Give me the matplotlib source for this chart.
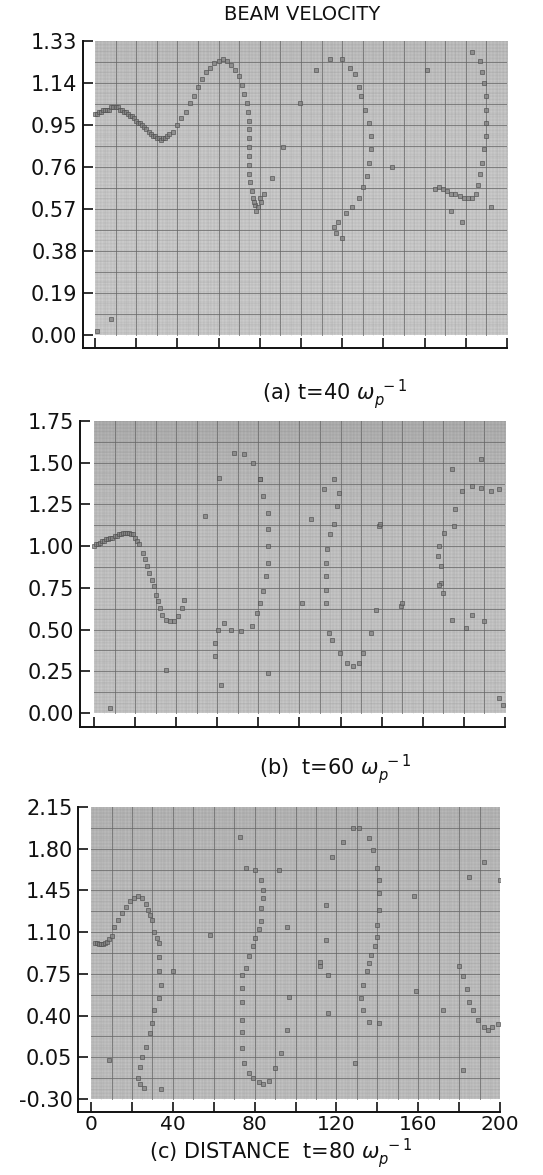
import numpy as np
import matplotlib
matplotlib.use("Agg")
import matplotlib.pyplot as plt

plt.rcParams['font.family'] = ['DejaVu Sans']

W, H = 543, 1175

# ---------------- data: beam phase space (distance, velocity) ----------------
# (a) t = 40
xa = list(range(0, 37)) + [
      38, 40, 42, 44, 46, 48, 50, 52, 54, 56, 58, 60, 62, 64, 66, 68, 70, 71.5, 72.5,
      74, 74.5, 75, 75, 75, 75, 75, 75, 75, 75.5, 76, 76.5, 77.5, 79, 80.5, 82,
      77, 78, 80,
      86, 91.5, 99.5, 107.5, 114, 120, 124, 126, 128, 129, 131, 133, 134, 134, 133,
      132, 130, 128, 125, 122, 118, 116, 117, 120,
      144, 161, 165, 167, 169, 171, 173, 175, 177, 179, 181, 183, 185, 186,
      187, 188, 189, 190, 190, 190, 190, 189, 188, 187, 183,
      173, 178, 192, 1, 8]
ya = [1.00, 1.00, 1.01, 1.01, 1.02, 1.02, 1.02, 1.02, 1.03, 1.03, 1.03, 1.03, 1.02,
      1.02, 1.01, 1.01, 1.00, 0.99, 0.99, 0.98, 0.97, 0.96, 0.96, 0.95, 0.94, 0.93,
      0.92, 0.91, 0.90, 0.90, 0.89, 0.89, 0.88, 0.89, 0.89, 0.90, 0.91,
      0.92, 0.95, 0.98, 1.01, 1.05, 1.08, 1.12,
      1.16, 1.19, 1.21, 1.23, 1.24, 1.25, 1.24, 1.22, 1.20, 1.17, 1.13, 1.09, 1.05,
      1.01, 0.97, 0.93, 0.89, 0.85, 0.81, 0.77, 0.73, 0.69, 0.65, 0.62, 0.59, 0.58,
      0.60, 0.64,
      0.60, 0.56, 0.62,
      0.71, 0.85, 1.05, 1.20, 1.25, 1.25, 1.21, 1.18, 1.12, 1.08, 1.02, 0.96, 0.90,
      0.84, 0.78, 0.72, 0.67, 0.62, 0.58, 0.55, 0.51, 0.49, 0.46, 0.44,
      0.76, 1.20, 0.66, 0.67, 0.66, 0.65, 0.64, 0.64, 0.63, 0.62, 0.62, 0.62, 0.64,
      0.68, 0.73, 0.78, 0.84, 0.90, 0.96, 1.02, 1.08, 1.14, 1.19, 1.24, 1.28,
      0.56, 0.51, 0.58, 0.02, 0.07]

# (b) t = 60
xb = list(range(0, 23)) + [
      24, 25, 26, 27, 28, 29, 30, 31, 32, 33, 35, 37, 39, 41, 43, 44,
      68, 73, 77.6, 80.7, 82.2, 84.6, 84.6, 84.6, 84.6, 83.8, 82.2, 80.7, 79.2,
      76.8, 71.3, 66.6, 63.5, 60.4, 58.8, 58.8, 62, 84.6, 54, 61, 81,
      116.6, 119, 118.2, 116.6, 115, 113.5, 112.7, 112.7, 112.7, 112.7, 114.3,
      115.8, 119.7, 122.9, 126, 129.1, 130.7, 112, 105.7, 138.5, 137, 134.6, 101,
      188.4, 174.4, 183.8, 188.4, 193.1, 179, 175.8, 175.2, 170.5, 168.1, 167.4,
      168.9, 168.9, 169.7, 197, 139.3, 149.3, 168, 174, 181, 184, 190, 197,
      8, 35, 150, 199]
yb = [1.00, 1.01, 1.01, 1.02, 1.03, 1.03, 1.04, 1.04, 1.05, 1.05, 1.06, 1.06, 1.07,
      1.07, 1.08, 1.08, 1.08, 1.08, 1.07, 1.07, 1.05, 1.03, 1.01,
      0.96, 0.92, 0.88, 0.84, 0.80, 0.76, 0.71, 0.67, 0.63, 0.59, 0.56, 0.55, 0.55,
      0.58, 0.63, 0.68,
      1.56, 1.55, 1.50, 1.40, 1.30, 1.20, 1.10, 1.00, 0.90, 0.82, 0.73, 0.66, 0.60,
      0.52, 0.49, 0.50, 0.54, 0.50, 0.42, 0.34, 0.17, 0.24, 1.18, 1.41, 1.40,
      1.40, 1.32, 1.24, 1.13, 1.07, 0.98, 0.90, 0.82, 0.74, 0.66, 0.48, 0.44, 0.36,
      0.30, 0.28, 0.30, 0.36, 1.34, 1.16, 1.12, 0.62, 0.48, 0.66,
      1.52, 1.46, 1.36, 1.35, 1.33, 1.33, 1.22, 1.12, 1.08, 1.00, 0.94, 0.88, 0.78,
      0.72, 1.34, 1.13, 0.64, 0.77, 0.56, 0.51, 0.59, 0.55, 0.09,
      0.03, 0.26, 0.66, 0.05]

# (c) t = 80
xc = [2, 3, 4, 5, 6, 7, 8, 9, 10, 11, 13, 15, 17, 19, 21, 23, 25, 27, 28, 29, 30,
      31, 32, 33, 33, 33, 34, 33, 31, 30, 29, 27, 25, 24, 23, 24, 26,
      76, 80, 83, 84, 84, 83, 83, 82, 80, 79, 77, 76, 74, 74, 74, 74, 74, 74, 75,
      77, 79, 82, 84, 87,
      123, 128, 131, 136, 138, 140, 141, 141, 141, 140, 140, 139, 137, 136, 135,
      133, 132, 133, 136, 141, 118,
      180, 182, 184, 185, 187, 189, 192, 194, 196, 199,
      58, 96, 115, 112, 158, 192, 185, 200, 9, 34, 96, 97, 93, 90, 116, 112, 116,
      129, 159, 172, 182, 73, 115, 92, 40]
yc = [1.01, 1.01, 1.00, 1.00, 1.00, 1.01, 1.02, 1.04, 1.07, 1.14, 1.20, 1.26, 1.31,
      1.36, 1.39, 1.40, 1.39, 1.34, 1.29, 1.24, 1.20, 1.10, 1.05, 1.01, 0.89, 0.77,
      0.66, 0.55, 0.45, 0.34, 0.25, 0.14, 0.05, -0.03, -0.12, -0.17, -0.21,
      1.64, 1.62, 1.54, 1.45, 1.39, 1.30, 1.19, 1.13, 1.05, 0.98, 0.90, 0.80, 0.74,
      0.63, 0.51, 0.36, 0.26, 0.13, 0.00, -0.08, -0.12, -0.16, -0.17, -0.15,
      1.86, 1.97, 1.97, 1.89, 1.79, 1.64, 1.54, 1.43, 1.29, 1.16, 1.06, 0.98, 0.91,
      0.84, 0.77, 0.66, 0.55, 0.45, 0.35, 0.34, 1.73,
      0.82, 0.73, 0.62, 0.51, 0.45, 0.36, 0.30, 0.28, 0.30, 0.33,
      1.08, 1.14, 1.03, 0.85, 1.40, 1.69, 1.56, 1.54, 0.03, -0.22, 0.28, 0.56, 0.09,
      -0.04, 0.42, 0.82, 0.74, 0.00, 0.61, 0.45, -0.06, 1.90, 1.33, 1.62, 0.77]

# y ticks of each panel
ticks_a = [0.00, 0.19, 0.38, 0.57, 0.76, 0.95, 1.14, 1.33]
ticks_b = [0.00, 0.25, 0.50, 0.75, 1.00, 1.25, 1.50, 1.75]
ticks_c = [-0.30, 0.05, 0.40, 0.75, 1.10, 1.45, 1.80, 2.15]
xticks = list(range(0, 201, 20))
xtick_labels = ['0', '', '40', '', '80', '', '120', '', '160', '', '200']

fig = plt.figure(figsize=(W / 100, H / 100), dpi=100)


def make_panel(box, xlo, ylo, yt, xs, ys, show_xlabels, base, topdark):
    # box = (left px, top px, right px, bottom px)
    l, t, r, b = box
    ax = fig.add_axes([l / W, 1 - b / H, (r - l) / W, (b - t) / H])
    y0, y1 = yt[0], yt[-1]
    step = yt[1] - yt[0]
    ax.set_xlim(xlo, 200)
    ax.set_ylim(ylo, y1)
    ax.set_facecolor('white')
    # film background with its ruled grid
    nx, ny = 420, 300
    u, v = np.meshgrid(np.arange(nx), np.arange(ny))
    tex = np.cos(2 * np.pi * (u + v) / 7.0) * np.cos(2 * np.pi * (u - v) / 7.0)
    shade = base + 0.04 * tex - topdark * (v / ny) ** 4
    ax.imshow(shade, extent=(0, 200, y0, y1), origin='lower', cmap='gray',
              vmin=0, vmax=1, aspect='auto', interpolation='bilinear', zorder=0.5)
    for gxv in np.arange(5, 200, 5):
        major = (gxv % 10 == 0)
        ax.plot([gxv, gxv], [y0, y1], color='#666666' if major else '#9a9a9a',
                lw=0.7 if major else 0.4, alpha=0.75 if major else 0.35, zorder=1)
    k = 1
    while y0 + k * step / 4 < y1 - 1e-9:
        yy = y0 + k * step / 4
        major = (k % 2 == 0)
        ax.plot([0, 200], [yy, yy], color='#666666' if major else '#9a9a9a',
                lw=0.7 if major else 0.4, alpha=0.75 if major else 0.35, zorder=1)
        k += 1
    ax.plot(xs, ys, linestyle='none', marker='s', ms=2.8, mfc='#808080',
            mec='#4e4e4e', mew=0.6, alpha=0.75, zorder=2)
    for side in ('top', 'right'):
        ax.spines[side].set_visible(False)
    for side in ('left', 'bottom'):
        ax.spines[side].set_linewidth(1.4)
        ax.spines[side].set_color('#111111')
    ax.set_yticks(yt)
    ax.set_yticklabels(['%.2f' % v_ for v_ in yt])
    ax.set_xticks(xticks)
    if show_xlabels:
        ax.set_xticklabels(xtick_labels)
    else:
        ax.set_xticklabels([])
    ax.tick_params(direction='in', length=7.5, width=1.2, color='#111111',
                   labelsize=15, pad=4, labelcolor='#111111')
    ax.tick_params(axis='x', pad=2, labelsize=14.5)
    return ax


make_panel((83, 41, 507, 348), -5.8, -0.059, ticks_a, xa, ya, False, 0.77, 0.05)
make_panel((80, 421, 505, 727), -6.8, -0.084, ticks_b, xb, yb, False, 0.75, 0.09)
make_panel((78, 807, 500, 1112), -6.4, -0.409, ticks_c, xc, yc, True, 0.73, 0.04)

fig.text(302 / W, 1 - 15 / H, 'BEAM VELOCITY', ha='center', va='center',
         fontsize=14, color='#111111')
fig.text(335 / W, 1 - 400 / H, r'(a) t=40 $\omega_p^{\ -1}$', ha='center',
         va='baseline', fontsize=15, color='#111111')
fig.text(335 / W, 1 - 775 / H, r'(b)  t=60 $\omega_p^{\ -1}$', ha='center',
         va='baseline', fontsize=15, color='#111111')
fig.text(281 / W, 1 - 1159 / H, r'(c) DISTANCE  t=80 $\omega_p^{\ -1}$',
         ha='center', va='baseline', fontsize=15, color='#111111')

fig.savefig('out.png', dpi=100, facecolor='white')
